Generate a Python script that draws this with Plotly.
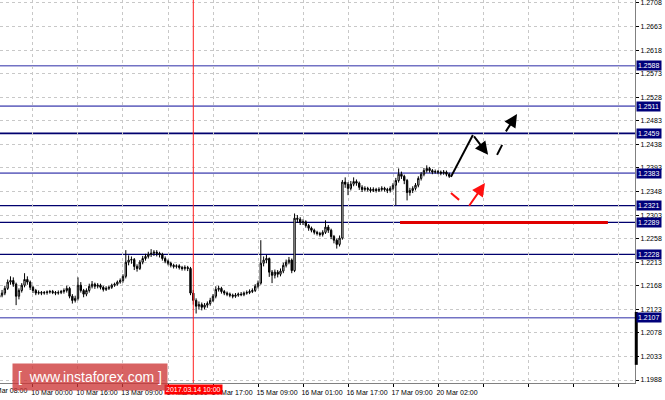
import plotly.graph_objects as go

# ---------------- data (H1 bars, index 0 = 9 Mar 08:00) ----------------
first_bar = 4
opens = [1.2146,1.2150,1.2154,1.2163,1.2175,1.2178,1.2171,1.2148,1.2159,1.2169,
         1.2180,1.2175,1.2165,1.2159,1.2154,1.2155,1.2154,1.2155,1.2156,1.2157,
         1.2155,1.2154,1.2155,1.2157,1.2159,1.2163,1.2148,1.2140,1.2144,1.2169,
         1.2159,1.2152,1.2159,1.2167,1.2171,1.2167,1.2169,1.2165,1.2161,1.2163,
         1.2165,1.2169,1.2171,1.2175,1.2178,1.2186,1.2213,1.2217,1.2218,1.2205,
         1.2201,1.2213,1.2220,1.2224,1.2228,1.2230,1.2232,1.2230,1.2228,1.2220,
         1.2215,1.2211,1.2207,1.2205,1.2206,1.2203,1.2201,1.2203,1.2201,1.2154,
         1.2140,1.2129,1.2132,1.2127,1.2131,1.2134,1.2140,1.2148,1.2161,1.2163,
         1.2157,1.2154,1.2152,1.2150,1.2148,1.2150,1.2152,1.2151,1.2154,1.2155,
         1.2157,1.2159,1.2167,1.2173,1.2211,1.2217,1.2220,1.2194,1.2188,1.2194,
         1.2190,1.2196,1.2207,1.2213,1.2217,1.2197,1.2297,1.2295,1.2289,1.2290,
         1.2283,1.2278,1.2274,1.2270,1.2268,1.2266,1.2270,1.2280,1.2274,1.2262,
         1.2255,1.2247,1.2259,1.2366,1.2362,1.2354,1.2362,1.2367,1.2364,1.2356,
         1.2352,1.2354,1.2352,1.2350,1.2352,1.2350,1.2352,1.2354,1.2352,1.2350,
         1.2354,1.2360,1.2369,1.2381,1.2377,1.2369,1.2346,1.2350,1.2354,1.2360,
         1.2373,1.2381,1.2388,1.2392,1.2388,1.2385,1.2386,1.2385,1.2383,1.2385,
         1.2381]
highs = [1.2156,1.2160,1.2168,1.2180,1.2186,1.2184,1.2174,1.2163,1.2173,1.2192,
         1.2186,1.2178,1.2168,1.2162,1.2159,1.2158,1.2158,1.2159,1.2160,1.2160,
         1.2158,1.2159,1.2160,1.2163,1.2168,1.2166,1.2152,1.2149,1.2184,1.2175,
         1.2162,1.2163,1.2172,1.2177,1.2174,1.2173,1.2172,1.2168,1.2167,1.2168,
         1.2172,1.2174,1.2178,1.2182,1.2190,1.2236,1.2226,1.2224,1.2221,1.2209,
         1.2217,1.2225,1.2229,1.2233,1.2238,1.2236,1.2236,1.2233,1.2231,1.2224,
         1.2218,1.2214,1.2210,1.2209,1.2209,1.2206,1.2207,1.2206,1.2204,1.2160,
         1.2144,1.2138,1.2136,1.2135,1.2138,1.2145,1.2152,1.2167,1.2168,1.2166,
         1.2160,1.2157,1.2155,1.2153,1.2154,1.2155,1.2156,1.2157,1.2159,1.2161,
         1.2163,1.2171,1.2178,1.2255,1.2224,1.2227,1.2222,1.2198,1.2199,1.2198,
         1.2201,1.2212,1.2218,1.2223,1.2220,1.2306,1.2303,1.2299,1.2295,1.2293,
         1.2286,1.2281,1.2277,1.2273,1.2271,1.2274,1.2293,1.2284,1.2277,1.2265,
         1.2258,1.2264,1.2370,1.2375,1.2366,1.2368,1.2375,1.2371,1.2367,1.2360,
         1.2358,1.2357,1.2356,1.2356,1.2355,1.2356,1.2358,1.2357,1.2355,1.2358,
         1.2364,1.2374,1.2392,1.2386,1.2380,1.2372,1.2355,1.2358,1.2364,1.2377,
         1.2385,1.2393,1.2398,1.2395,1.2391,1.2390,1.2389,1.2388,1.2389,1.2388,
         1.2384]
lows = [1.2140,1.2146,1.2150,1.2160,1.2170,1.2166,1.2131,1.2142,1.2155,1.2165,
        1.2170,1.2160,1.2154,1.2150,1.2151,1.2150,1.2151,1.2151,1.2153,1.2152,
        1.2150,1.2151,1.2152,1.2153,1.2155,1.2144,1.2134,1.2136,1.2140,1.2155,
        1.2146,1.2148,1.2155,1.2163,1.2162,1.2163,1.2161,1.2157,1.2158,1.2160,
        1.2162,1.2166,1.2168,1.2172,1.2174,1.2182,1.2207,1.2210,1.2198,1.2195,
        1.2198,1.2209,1.2216,1.2220,1.2223,1.2225,1.2224,1.2222,1.2216,1.2211,
        1.2207,1.2203,1.2201,1.2201,1.2199,1.2197,1.2197,1.2196,1.2150,1.2132,
        1.2115,1.2123,1.2121,1.2123,1.2126,1.2130,1.2137,1.2144,1.2157,1.2153,
        1.2150,1.2148,1.2146,1.2144,1.2145,1.2147,1.2148,1.2148,1.2151,1.2152,
        1.2154,1.2156,1.2163,1.2170,1.2205,1.2211,1.2185,1.2173,1.2182,1.2184,
        1.2186,1.2192,1.2203,1.2209,1.2192,1.2194,1.2288,1.2284,1.2284,1.2279,
        1.2273,1.2270,1.2266,1.2264,1.2262,1.2262,1.2267,1.2269,1.2257,1.2249,
        1.2239,1.2243,1.2256,1.2355,1.2341,1.2350,1.2358,1.2359,1.2351,1.2347,
        1.2348,1.2348,1.2346,1.2347,1.2346,1.2347,1.2348,1.2348,1.2345,1.2346,
        1.2350,1.2322,1.2365,1.2372,1.2362,1.2331,1.2340,1.2345,1.2350,1.2356,
        1.2369,1.2377,1.2384,1.2384,1.2381,1.2382,1.2381,1.2379,1.2380,1.2377,
        1.2374]
closes = [1.2150,1.2154,1.2163,1.2175,1.2178,1.2171,1.2148,1.2159,1.2169,1.2180,
          1.2175,1.2165,1.2159,1.2154,1.2155,1.2154,1.2155,1.2156,1.2157,1.2155,
          1.2154,1.2155,1.2157,1.2159,1.2163,1.2148,1.2140,1.2144,1.2169,1.2159,
          1.2152,1.2159,1.2167,1.2171,1.2167,1.2169,1.2165,1.2161,1.2163,1.2165,
          1.2169,1.2171,1.2175,1.2178,1.2186,1.2213,1.2217,1.2218,1.2205,1.2201,
          1.2213,1.2220,1.2224,1.2228,1.2230,1.2232,1.2230,1.2228,1.2220,1.2215,
          1.2211,1.2207,1.2205,1.2206,1.2203,1.2201,1.2203,1.2201,1.2154,1.2140,
          1.2129,1.2132,1.2127,1.2131,1.2134,1.2140,1.2148,1.2161,1.2163,1.2157,
          1.2154,1.2152,1.2150,1.2148,1.2150,1.2152,1.2151,1.2154,1.2155,1.2157,
          1.2159,1.2167,1.2173,1.2211,1.2217,1.2220,1.2194,1.2188,1.2194,1.2190,
          1.2196,1.2207,1.2213,1.2217,1.2197,1.2297,1.2295,1.2289,1.2290,1.2283,
          1.2278,1.2274,1.2270,1.2268,1.2266,1.2270,1.2280,1.2274,1.2262,1.2255,
          1.2247,1.2259,1.2366,1.2362,1.2354,1.2362,1.2367,1.2364,1.2356,1.2352,
          1.2354,1.2352,1.2350,1.2352,1.2350,1.2352,1.2354,1.2352,1.2350,1.2354,
          1.2360,1.2369,1.2381,1.2377,1.2369,1.2346,1.2350,1.2354,1.2360,1.2373,
          1.2381,1.2388,1.2392,1.2388,1.2385,1.2386,1.2385,1.2383,1.2385,1.2381,
          1.2377]

# time axis labels (every 16 bars)
x_tick_bars = [16, 32, 48, 64, 80, 96, 112, 128, 144, 160]
x_tick_labels = ["10 Mar 00:00", "10 Mar 16:00", "13 Mar 09:00", "14 Mar 01:00",
                 "14 Mar 17:00", "15 Mar 09:00", "16 Mar 01:00", "16 Mar 17:00",
                 "17 Mar 09:00", "20 Mar 02:00"]
x_grid_extra = [176, 192, 208, 224]
first_label = "9 Mar 08:00"

# price scale labels
y_ticks = [1.1988, 1.2033, 1.2078, 1.2123, 1.2168, 1.2213, 1.2258, 1.2303, 1.2348,
           1.2393, 1.2438, 1.2483, 1.2528, 1.2573, 1.2618, 1.2663, 1.2708]

# horizontal levels
levels = [1.2588, 1.2511, 1.2459, 1.2383, 1.2321, 1.2289, 1.2228, 1.2107]
level_dark = [False, False, True, False, True, True, True, False]

# cursor (vertical red line)
cursor_bar = 73
cursor_label = "2017.03.14 10:00"

# red support segment
red_seg_x = [146.5, 220.4]
red_seg_y = 1.2289

# scenario drawings (bar index, price)
black_line_x = [164.6, 172.4]
black_line_y = [1.2376, 1.2456]
black_arrow1 = (172.4, 1.2456, 177.8, 1.2418)   # tail x, tail y, head x, head y
black_dash = (181.0, 1.2418, 182.8, 1.2437)
black_arrow2 = (183.8, 1.2460, 188.1, 1.2496)
red_dash = (164.6, 1.2345, 167.5, 1.2332)
red_arrow = (170.7, 1.2318, 176.7, 1.2364)

x_range = [4.27, 230.04]
y_range = [1.19823, 1.27137]

# ---------------- figure ----------------
bars = list(range(first_bar, first_bar + len(closes)))
FONT = "Liberation Sans, Arial, sans-serif"

fig = go.Figure()
fig.add_trace(go.Candlestick(
    x=bars, open=opens, high=highs, low=lows, close=closes,
    increasing=dict(line=dict(color="black", width=1), fillcolor="white"),
    decreasing=dict(line=dict(color="black", width=1), fillcolor="black"),
    whiskerwidth=0, showlegend=False, hoverinfo="skip"))

shapes = []
for lv, dark in zip(levels, level_dark):
    shapes.append(dict(type="line", xref="paper", x0=0, x1=1, yref="y", y0=lv, y1=lv,
                       line=dict(color="#00006e" if dark else "#7272c4",
                                 width=1.6 if lv == 1.2459 else (1.2 if dark else 1.6)),
                       layer="below"))
shapes.append(dict(type="line", xref="x", x0=cursor_bar, x1=cursor_bar, yref="paper",
                   y0=0, y1=1, line=dict(color="#ff2020", width=1)))
shapes.append(dict(type="line", xref="x", x0=red_seg_x[0], x1=red_seg_x[1], yref="y",
                   y0=red_seg_y, y1=red_seg_y, line=dict(color="#e00000", width=3)))
for seg, col in [(black_dash, "black"), (red_dash, "#ff1010")]:
    shapes.append(dict(type="line", xref="x", yref="y", x0=seg[0], y0=seg[1],
                       x1=seg[2], y1=seg[3], line=dict(color=col, width=2)))
shapes.append(dict(type="line", xref="x", yref="y", x0=black_line_x[0], y0=black_line_y[0],
                   x1=black_line_x[1], y1=black_line_y[1], line=dict(color="black", width=2)))
# scale marker bar at the right edge
shapes.append(dict(type="line", xref="paper", x0=1.002, x1=1.002, yref="y",
                   y0=1.2017, y1=1.2118, line=dict(color="black", width=3)))

annotations = []
for tail_x, tail_y, head_x, head_y, col in [
        (*black_arrow1, "black"), (*black_arrow2, "black"), (*red_arrow, "#ff1010")]:
    annotations.append(dict(x=head_x, y=head_y, ax=tail_x, ay=tail_y, xref="x", yref="y",
                            axref="x", ayref="y", showarrow=True, arrowhead=2,
                            arrowsize=1.3, arrowwidth=2, arrowcolor=col, text=""))
for lv in levels:
    annotations.append(dict(x=1, xref="paper", xanchor="left", xshift=1, y=lv, yref="y",
                            text=f"{lv:.4f}", showarrow=False, bgcolor="#00007a",
                            font=dict(color="white", size=7, family=FONT), borderpad=1))
annotations.append(dict(x=cursor_bar, xref="x", y=0, yref="paper", yanchor="top", yshift=-1,
                        text=cursor_label, showarrow=False, bgcolor="#ff0000",
                        font=dict(color="white", size=7, family=FONT), borderpad=1))
annotations.append(dict(x=-12 / 635, xref="paper", xanchor="left", y=0, yref="paper",
                        yanchor="top", yshift=-2, text=first_label, showarrow=False,
                        font=dict(color="black", size=7, family=FONT)))
annotations.append(dict(x=12 / 635, xref="paper", xanchor="left", y=6 / 383, yref="paper",
                        yanchor="middle", text="[&nbsp;&nbsp;www.instaforex.com&nbsp;]",
                        showarrow=False, bgcolor="rgba(205,55,55,0.78)",
                        font=dict(color="white", size=14, family=FONT), borderpad=5))

fig.update_layout(
    width=665, height=400,
    margin=dict(l=0, r=30, t=0, b=17),
    paper_bgcolor="white", plot_bgcolor="white",
    font=dict(family=FONT, size=7, color="black"),
    shapes=shapes, annotations=annotations,
    xaxis=dict(range=x_range, rangeslider=dict(visible=False),
               tickmode="array", tickvals=x_tick_bars + x_grid_extra,
               ticktext=x_tick_labels + [""] * len(x_grid_extra),
               ticks="outside", ticklen=3, tickcolor="black", ticklabelshift=19,
               tickfont=dict(size=7, family=FONT),
               showgrid=True, gridcolor="#c8c8c8", griddash="dot", gridwidth=1,
               showline=True, linecolor="#808080", zeroline=False),
    yaxis=dict(range=y_range, side="right", tickmode="array", tickvals=y_ticks,
               ticktext=[f"{v:.4f}" for v in y_ticks], ticks="outside", ticklen=3,
               tickcolor="black", tickfont=dict(size=7, family=FONT),
               ticklabeloverflow="allow",
               showgrid=True, gridcolor="#c8c8c8", griddash="dot", gridwidth=1,
               showline=True, linecolor="#808080", zeroline=False),
)

fig.write_html("out.html", config={"displayModeBar": False},
               post_script="document.body.style.margin='0';")
